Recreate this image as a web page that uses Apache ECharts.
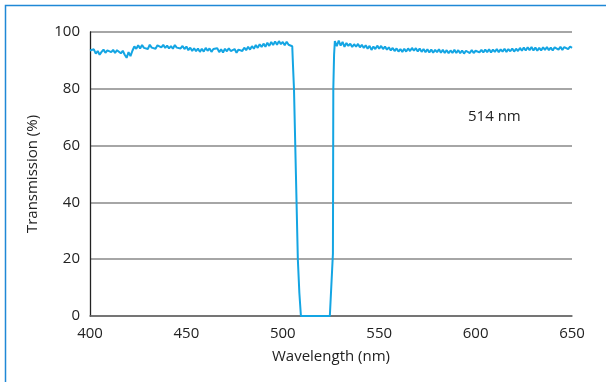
<!DOCTYPE html>
<html>
<head>
<meta charset="utf-8">
<script src="https://cdn.jsdelivr.net/npm/echarts@6/dist/echarts.min.js"></script>
<style>html,body{margin:0;padding:0;background:#fff}#c{width:606px;height:382px}</style>
</head>
<body>
<div id="c"></div>
<script>
// Wavelength (nm) and transmission (%)
const wavelengths = [400,401,402,403,404,405,406,407,408,409,410,411,412,413,414,415,416,417,418,419,420,421,422,423,424,425,426,427,428,429,
430,431,432,433,434,435,436,437,438,439,440,441,442,443,444,445,446,447,448,449,450,451,452,453,454,455,456,457,458,459,
460,461,462,463,464,465,466,467,468,469,470,471,472,473,474,475,476,477,478,479,480,481,482,483,484,485,486,487,488,489,
490,491,492,493,494,495,496,497,498,499,500,501,502,503,504,504.9,505.3,505.8,506.8,507.8,508.6,509.4,
524.4,526.0,526.1,526.2,526.6,527,528,529,530,531,532,533,534,535,536,537,538,539,540,541,542,543,544,545,546,547,548,549,
550,551,552,553,554,555,556,557,558,559,560,561,562,563,564,565,566,567,568,569,570,571,572,573,574,575,576,577,578,579,
580,581,582,583,584,585,586,587,588,589,590,591,592,593,594,595,596,597,598,599,600,601,602,603,604,605,606,607,608,609,
610,611,612,613,614,615,616,617,618,619,620,621,622,623,624,625,626,627,628,629,630,631,632,633,634,635,636,637,638,639,
640,641,642,643,644,645,646,647,648,649,650];
const transmission = [
93.5,92.8,93.9,92.4,93.3,92.0,93.0,93.8,92.7,93.5,94.0,92.9,93.7,92.6,93.6,93.0,92.5,93.4,92.0,90.9,92.9,91.5,
93.4,94.9,94.1,95.3,94.2,95.4,94.4,95.1,94.0,95.5,94.5,95.2,94.1,95.3,95.8,94.6,95.5,94.4,95.2,94.2,95.0,94.1,95.4,94.5,95.2,94.2,95.1,94.0,94.9,
93.6,94.5,93.3,94.3,93.2,94.2,93.0,94.1,93.1,94.4,93.4,94.2,93.0,94.0,93.3,94.3,92.9,93.9,92.8,94.1,93.2,94.3,93.3,92.8,94.0,92.7,93.8,94.2,93.3,
94.5,93.6,94.8,93.8,95.0,94.1,95.4,94.4,95.7,94.7,95.9,94.8,96.2,95.1,96.5,95.4,96.7,95.5,96.8,95.7,96.5,95.3,96.6,95.5,96.2,
95.0,88,80,50,20,8,0,
0,22,50,80,92,
96.8,95.0,97.0,95.2,96.5,94.8,96.1,95.1,95.9,94.7,95.7,94.8,95.8,94.6,95.5,94.4,95.3,94.1,95.1,93.7,94.9,94.0,95.2,
94.1,95.1,94.0,94.9,93.8,94.6,93.5,94.4,93.3,94.2,93.1,94.0,93.0,94.1,93.1,94.2,93.3,94.4,93.4,94.3,93.1,94.2,93.0,94.0,92.9,93.9,92.8,93.8,92.7,93.7,
92.9,93.9,92.7,93.7,92.6,93.6,92.5,93.5,92.6,93.7,92.6,93.6,92.5,93.5,92.4,93.4,93.7,92.6,93.6,92.6,93.4,93.9,92.8,93.7,92.8,93.8,92.9,93.9,92.8,93.8,
93.0,94.0,92.9,93.9,93.1,94.1,93.0,94.0,93.2,94.2,93.1,94.1,93.3,94.4,93.4,94.5,93.5,94.6,93.6,94.7,93.5,94.5,93.4,94.4,93.5,94.6,93.7,94.7,93.6,94.5,
93.5,94.6,94.9,93.8,94.8,93.7,94.7,95.2,94.0,94.9,94.4];
const xTicks = [400,450,500,550,600,650];
const yTicks = [0,20,40,60,80,100];
const annotation = '514 nm';
const xName = 'Wavelength (nm)';
const yName = 'Transmission (%)';

const data = wavelengths.map((w,i)=>[w, transmission[i]]);
const chart = echarts.init(document.getElementById('c'), null, {renderer:'canvas'});
const font = 'Open Sans';
chart.setOption({
  animation:false,
  backgroundColor:'#fff',
  grid:{left:90,right:34,top:32,bottom:66},
  xAxis:{type:'value',min:xTicks[0],max:xTicks[xTicks.length-1],interval:50,
    axisLine:{show:true,lineStyle:{color:'#666',width:1.5}},axisTick:{show:false},splitLine:{show:false},
    axisLabel:{color:'#222',fontSize:15,fontFamily:font,margin:10},
    name:xName,nameLocation:'middle',nameGap:33,nameTextStyle:{color:'#222',fontSize:15,fontFamily:font}},
  yAxis:{type:'value',min:yTicks[0],max:yTicks[yTicks.length-1],interval:20,
    axisLine:{show:true,lineStyle:{color:'#222',width:1.3}},axisTick:{show:false},
    splitLine:{show:true,lineStyle:{color:'#888',width:1.5}},
    axisLabel:{color:'#222',fontSize:15,fontFamily:font,margin:10},
    name:yName,nameLocation:'middle',nameGap:50,nameTextStyle:{color:'#222',fontSize:15,fontFamily:font}},
  graphic:[
    {type:'rect',shape:{x:5.5,y:5.5,width:620,height:400},style:{fill:'none',stroke:'#1f88d6',lineWidth:1.5},z:10},
    {type:'text',left:468,top:109,style:{text:annotation,fill:'#222',fontSize:15,fontFamily:font}}
  ],
  series:[{type:'line',data:data,showSymbol:false,symbol:'none',
    lineStyle:{color:'#14a5e3',width:2},clip:false}]
});
</script>
</body>
</html>
